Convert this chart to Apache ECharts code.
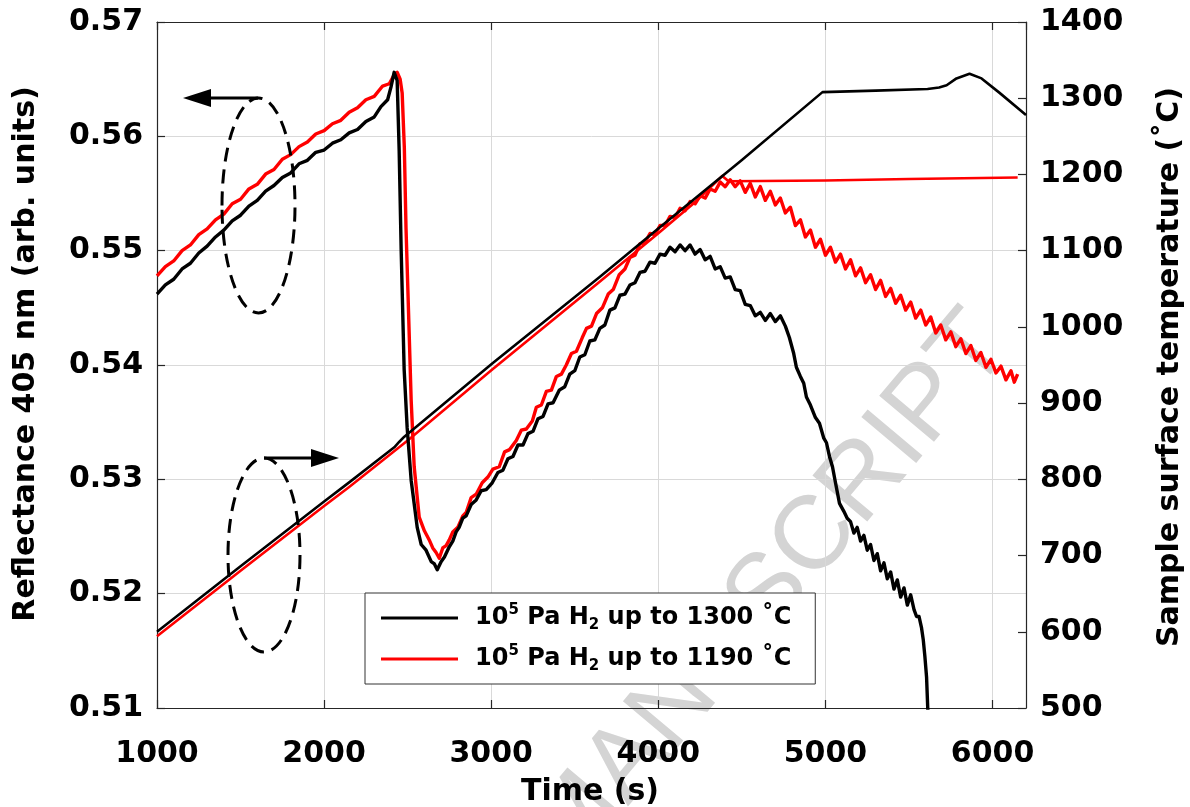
<!DOCTYPE html>
<html>
<head>
<meta charset="utf-8">
<script src="https://cdn.jsdelivr.net/npm/echarts@6/dist/echarts.min.js"></script>
<style>
html,body{margin:0;padding:0;background:#fff;}
#chart{width:1190px;height:807px;}
</style>
</head>
<body>
<div id="chart"></div>
<script>
// ---- axis ranges / ticks ----
const timeRange = [1000, 6200];
const timeTicks = [1000, 2000, 3000, 4000, 5000, 6000];
const reflRange = [0.51, 0.57];
const reflTicks = [0.51, 0.52, 0.53, 0.54, 0.55, 0.56, 0.57];
const tempRange = [500, 1400];
const tempTicks = [500, 600, 700, 800, 900, 1000, 1100, 1200, 1300, 1400];

const seriesNames = ['run1300', 'run1190'];

// ---- reflectance at 405 nm, run up to 1300 °C (black) ----
const blackReflectance = [
[1000,.5462],[1050,.5470],[1100,.5475],[1150,.5484],[1200,.5489],[1250,.5498],[1300,.5504],[1350,.5512],
[1400,.5518],[1450,.5526],[1500,.5531],[1550,.5539],[1600,.5544],[1650,.5552],[1700,.5557],[1750,.5564],
[1800,.5568],[1850,.5576],[1900,.5579],[1950,.5586],[2000,.5588],[2050,.5594],[2100,.5597],[2150,.5603],
[2200,.5606],[2250,.5613],[2300,.5617],[2340,.5626],[2380,.5632],[2400,.5643],[2419,.5656],[2437,.5649],
[2449,.5588],[2461,.5501],[2479,.5396],[2497,.5345],[2521,.5299],[2557,.5258],[2581,.5243],[2610,.5238],
[2641,.5228],[2660,.5226],[2677,.5221],[2700,.5228],[2720,.5232],[2749,.5241],[2770,.5246],[2790,.5254],
[2808,.5258],[2830,.5266],[2850,.5268],[2880,.5278],[2910,.5282],[2940,.5290],[2970,.5291],[3006,.5297],
[3040,.5306],[3070,.5308],[3100,.5318],[3130,.5320],[3160,.5330],[3190,.5330],[3220,.5340],[3250,.5342],
[3280,.5353],[3310,.5355],[3340,.5366],[3370,.5367],[3407,.5378],[3440,.5381],[3470,.5392],[3500,.5395],
[3530,.5407],[3560,.5409],[3590,.5421],[3620,.5422],[3650,.5432],[3680,.5435],[3710,.5448],[3740,.5450],
[3770,.5461],[3800,.5462],[3830,.5470],[3860,.5472],[3890,.5481],[3920,.5482],[3950,.5490],[3980,.5489],
[4010,.5497],[4040,.5496],[4070,.5503],[4100,.5499],[4130,.5505],[4160,.5500],[4190,.5505],[4220,.5497],
[4250,.5501],[4280,.5492],[4310,.5495],[4340,.5484],[4370,.5486],[4400,.5476],[4430,.5477],[4460,.5466],
[4490,.5465],[4520,.5453],[4550,.5452],[4580,.5443],[4610,.5446],[4640,.5439],[4670,.5445],[4700,.5438],
[4730,.5443],[4760,.5434],[4784,.5424],[4810,.5410],[4826,.5398],[4850,.5390],[4870,.5384],[4886,.5372],
[4910,.5365],[4940,.5354],[4964,.5349],[4990,.5336],[5006,.5332],[5024,.5320],[5042,.5311],[5060,.5297],
[5084,.5279],[5110,.5272],[5130,.5266],[5150,.5263],[5170,.5253],[5190,.5258],[5210,.5246],[5230,.5251],
[5250,.5238],[5270,.5243],[5290,.5229],[5310,.5235],[5330,.5220],[5350,.5227],[5370,.5213],[5390,.5219],
[5410,.5204],[5430,.5212],[5450,.5197],[5470,.5205],[5490,.5190],[5510,.5199],[5530,.5186],[5545,.5180],
[5560,.5180],[5575,.5170],[5585,.5160],[5595,.5145],[5605,.5127],[5612,.5100],[5616,.5090]
];

// ---- reflectance at 405 nm, run up to 1190 °C (red) ----
const redReflectance = [
[1000,.5478],[1050,.5486],[1100,.5491],[1150,.5500],[1200,.5505],[1250,.5514],[1300,.5519],[1350,.5527],
[1400,.5532],[1450,.5541],[1500,.5545],[1550,.5554],[1600,.5558],[1650,.5567],[1700,.5571],[1750,.5580],
[1800,.5584],[1850,.5591],[1900,.5595],[1950,.5602],[2000,.5605],[2050,.5611],[2100,.5614],[2150,.5621],
[2200,.5625],[2250,.5632],[2300,.5635],[2350,.5644],[2390,.5646],[2420,.5654],[2437,.5656],[2455,.5650],
[2467,.5638],[2480,.5590],[2490,.5520],[2503,.5457],[2521,.5369],[2539,.5311],[2569,.5267],[2600,.5255],
[2629,.5247],[2650,.5240],[2670,.5236],[2689,.5231],[2710,.5240],[2730,.5242],[2749,.5247],[2770,.5254],
[2800,.5258],[2830,.5268],[2850,.5271],[2880,.5284],[2910,.5287],[2946,.5297],[2980,.5302],[3010,.5309],
[3048,.5311],[3080,.5324],[3110,.5326],[3150,.5334],[3180,.5343],[3210,.5344],[3246,.5351],[3270,.5363],
[3300,.5365],[3330,.5377],[3360,.5378],[3390,.5390],[3420,.5392],[3449,.5400],[3480,.5410],[3510,.5412],
[3545,.5424],[3570,.5432],[3600,.5434],[3630,.5445],[3665,.5450],[3700,.5462],[3730,.5466],[3766,.5479],
[3800,.5484],[3830,.5494],[3860,.5496],[3890,.5506],[3920,.5507],[3950,.5515],[3980,.5514],[4010,.5522],
[4040,.5522],[4070,.5530],[4100,.5529],[4130,.5537],[4160,.5535],[4190,.5543],[4220,.5541],[4250,.5548],
[4280,.5546],[4310,.5554],[4340,.5552],[4370,.5560],[4400,.5556],[4430,.5562],[4460,.5556],[4490,.5561],
[4520,.5551],[4550,.5559],[4580,.5547],[4610,.5556],[4640,.5544],[4670,.5552],[4700,.5540],[4730,.5546],
[4760,.5533],[4790,.5538],[4820,.5522],[4850,.5527],[4880,.5512],[4910,.5518],[4940,.5503],[4970,.5510],
[5000,.5496],[5030,.5503],[5060,.5490],[5090,.5497],[5120,.5484],[5150,.5492],[5180,.5478],[5210,.5485],
[5240,.5472],[5270,.5479],[5300,.5466],[5330,.5474],[5360,.5460],[5390,.5467],[5420,.5454],[5450,.5461],
[5480,.5448],[5510,.5455],[5540,.5441],[5570,.5448],[5600,.5435],[5630,.5442],[5660,.5428],[5690,.5435],
[5720,.5422],[5750,.5429],[5780,.5416],[5810,.5423],[5840,.5410],[5870,.5417],[5900,.5404],[5930,.5411],
[5960,.5398],[5990,.5405],[6020,.5393],[6050,.5399],[6080,.5387],[6110,.5395],[6130,.5385],[6150,.5392]
];

// ---- sample surface temperature (right axis) ----
const blackTemperature = [
[1000,600],[1500,686],[2000,771],[2150,796],[2420,842],[2449,849],[2480,856],[3006,952],[3647,1065],
[4000,1129],[4500,1219],[4982,1308],[5300,1310],[5611,1312],[5680,1314],[5725,1317],[5784,1326],
[5862,1332],[5934,1326],[6042,1307],[6200,1278]
];
const redTemperature = [
[1000,594],[1500,680],[2000,765],[2150,790],[2449,842],[2500,851],[3006,944],[3647,1059],[4000,1123],
[4200,1160],[4383,1198],[4420,1191],[5000,1192],[5500,1194],[6150,1196]
];

const FONT = 'DejaVu Sans';
const AX = '#262626';

const chart = echarts.init(document.getElementById('chart'), null, {renderer: 'canvas'});

const legendLabels = {
  run1300: '{b|10}{sup|5}{b| Pa H}{sub|2}{b| up to 1300 ˚C}',
  run1190: '{b|10}{sup|5}{b| Pa H}{sub|2}{b| up to 1190 ˚C}'
};

function lineSeries(name, data, color, yIdx, z, w) {
  return {
    name: name, type: 'line', data: data, xAxisIndex: 0, yAxisIndex: yIdx,
    showSymbol: false, symbol: 'none', smooth: false, z: z,
    lineStyle: {color: color, width: w, join: 'round'},
    itemStyle: {color: color}, clip: true
  };
}

const option = {
  animation: false,
  backgroundColor: '#fff',
  grid: {left: 157, right: 164, top: 22, bottom: 99, containLabel: false},
  xAxis: [{
    type: 'value', min: timeRange[0], max: timeRange[1], interval: 1000, position: 'bottom',
    axisLine: {show: true, lineStyle: {color: AX, width: 1.2}},
    axisTick: {show: true, inside: true, length: 8, lineStyle: {color: AX, width: 1.2}},
    axisLabel: {show: true, showMaxLabel: false, color: '#000', fontFamily: FONT, fontWeight: 'bold', fontSize: 30, margin: 31,
      formatter: v => String(v)},
    splitLine: {show: true, lineStyle: {color: '#d9d9d9', width: 1}}
  }, {
    type: 'value', min: timeRange[0], max: timeRange[1], interval: 1000, position: 'top',
    axisLine: {show: true, lineStyle: {color: AX, width: 1.2}},
    axisTick: {show: true, inside: true, length: 8, lineStyle: {color: AX, width: 1.2}},
    axisLabel: {show: false}, splitLine: {show: false}
  }],
  yAxis: [{
    type: 'value', min: reflRange[0], max: reflRange[1], interval: 0.01, position: 'left',
    axisLine: {show: true, lineStyle: {color: AX, width: 1.2}},
    axisTick: {show: true, inside: true, length: 8, lineStyle: {color: AX, width: 1.2}},
    axisLabel: {color: '#000', fontFamily: FONT, fontWeight: 'bold', fontSize: 30, margin: 14,
      formatter: v => v.toFixed(2)},
    splitLine: {show: true, lineStyle: {color: '#d9d9d9', width: 1}}
  }, {
    type: 'value', min: tempRange[0], max: tempRange[1], interval: 100, position: 'right',
    axisLine: {show: true, lineStyle: {color: AX, width: 1.2}},
    axisTick: {show: true, inside: true, length: 8, lineStyle: {color: AX, width: 1.2}},
    axisLabel: {color: '#000', fontFamily: FONT, fontWeight: 'bold', fontSize: 30, margin: 14,
      formatter: v => String(v)},
    splitLine: {show: false}
  }],
  legend: {
    show: true, orient: 'vertical', left: 365, top: 593,
    data: seriesNames,
    icon: 'rect', itemWidth: 77, itemHeight: 3, itemGap: 11,
    padding: [10, 24, 10, 16],
    borderColor: '#333', borderWidth: 1, backgroundColor: '#fff',
    selectedMode: false,
    formatter: n => legendLabels[n],
    textStyle: {
      padding: [0, 0, 0, 12],
      rich: {
        b: {fontFamily: FONT, fontWeight: 'bold', fontSize: 24, color: '#000', lineHeight: 30},
        sup: {fontFamily: FONT, fontWeight: 'bold', fontSize: 15, color: '#000', lineHeight: 18, verticalAlign: 'top'},
        sub: {fontFamily: FONT, fontWeight: 'bold', fontSize: 15, color: '#000', lineHeight: 14, verticalAlign: 'bottom'}
      }
    }
  },
  graphic: [
    // watermark
    {type: 'text', x: 992, y: 328, rotation: 50 * Math.PI / 180, z: 0, silent: true,
      style: {text: 'ACCEPTED MANUSCRIPT', fontFamily: 'Liberation Sans', fontSize: 104, fill: '#d4d4d4',
        align: 'right', verticalAlign: 'middle'}},
    // axis titles
    {type: 'text', x: 26, y: 354, rotation: Math.PI / 2, z: 10,
      style: {text: 'Reflectance 405 nm (arb. units)', fontFamily: FONT, fontWeight: 'bold', fontSize: 30, fill: '#000',
        align: 'center', verticalAlign: 'middle'}},
    {type: 'text', x: 1170, y: 367, rotation: Math.PI / 2, z: 10,
      style: {text: 'Sample surface temperature (˚C)', fontFamily: FONT, fontWeight: 'bold', fontSize: 30, fill: '#000',
        align: 'center', verticalAlign: 'middle'}},
    {type: 'text', x: 590, y: 792, z: 10,
      style: {text: 'Time (s)', fontFamily: FONT, fontWeight: 'bold', fontSize: 30, fill: '#000',
        align: 'center', verticalAlign: 'middle'}},
    // annotation: left-pointing (reflectance) ellipse + arrow
    {type: 'ellipse', z: 20, shape: {cx: 258.5, cy: 205.5, rx: 36.5, ry: 107.5},
      style: {fill: null, stroke: '#000', lineWidth: 3, lineDash: [14, 8]}},
    {type: 'line', z: 20, shape: {x1: 258, y1: 98, x2: 205, y2: 98}, style: {stroke: '#000', lineWidth: 3}},
    {type: 'polygon', z: 20, shape: {points: [[183, 98], [211, 89], [211, 107]]}, style: {fill: '#000'}},
    // annotation: right-pointing (temperature) ellipse + arrow
    {type: 'ellipse', z: 20, shape: {cx: 264, cy: 555, rx: 36, ry: 97},
      style: {fill: null, stroke: '#000', lineWidth: 3, lineDash: [14, 8]}},
    {type: 'line', z: 20, shape: {x1: 264, y1: 458, x2: 315, y2: 458}, style: {stroke: '#000', lineWidth: 3}},
    {type: 'polygon', z: 20, shape: {points: [[339, 458], [311, 449], [311, 467]]}, style: {fill: '#000'}}
  ],
  series: [
    lineSeries('run1190', redReflectance, '#ff0000', 0, 3, 3.4),
    lineSeries('run1190', redTemperature, '#ff0000', 1, 3, 2.6),
    lineSeries('run1300', blackReflectance, '#000000', 0, 4, 3.4),
    lineSeries('run1300', blackTemperature, '#000000', 1, 4, 2.6)
  ]
};
chart.setOption(option);
</script>
</body>
</html>
